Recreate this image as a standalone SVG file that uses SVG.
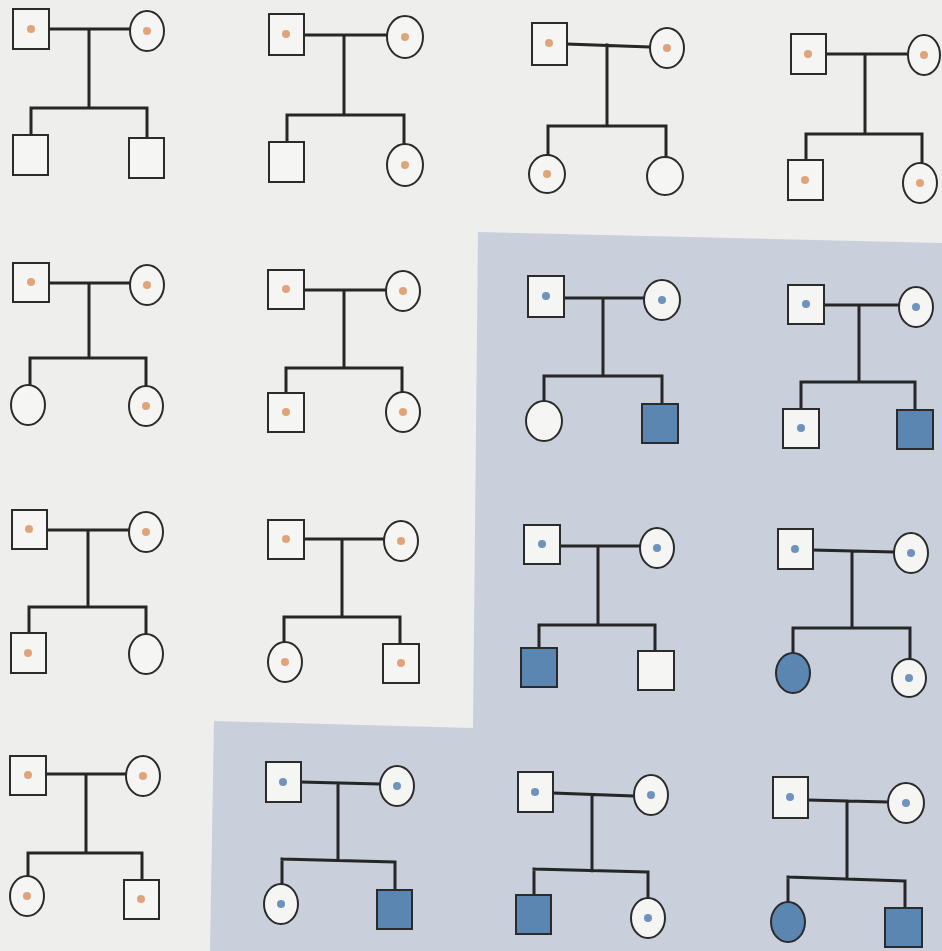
<svg xmlns="http://www.w3.org/2000/svg" width="942" height="951" viewBox="0 0 942 951">
<style>
.s{fill:#f5f5f3;stroke:#2b2b2b;stroke-width:2}
.a{fill:#5b86b1;stroke:#2b2b2b;stroke-width:2}
.l{fill:none;stroke:#262626;stroke-width:3;stroke-linecap:square}
.o{fill:#e0a47b}
.b{fill:#6f93bd}
</style>
<rect x="0" y="0" width="942" height="951" fill="#eeeeec"/>
<path d="M478,232 L942,243 L942,951 L210,951 L214,721 L473,728 Z" fill="#c9d0dc"/>
<g id="connectors">
<path class="l" d="M49,29 H130 M89,29 V108 M31,108 H147 M31,108 V135 M147,108 V138"/>
<path class="l" d="M304,35 H387 M344,35 V115 M287,115 H404 M287,115 V142 M404,115 V144"/>
<path class="l" d="M567,44 L650,47 M607,45 V126 M548,126 H666 M548,126 V154 M666,126 V156"/>
<path class="l" d="M826,54 H908 M865,54 V134 M806,134 H922 M806,134 V160 M922,134 V163"/>
<path class="l" d="M49,283 H130 M89,283 V358 M30,358 H146 M30,358 V385 M146,358 V386"/>
<path class="l" d="M304,290 H386 M344,290 V368 M286,368 H402 M286,368 V393 M402,368 V392"/>
<path class="l" d="M564,298 H644 M603,298 V376 M544,376 H662 M544,376 V401 M662,376 V404"/>
<path class="l" d="M824,305 H899 M859,305 V382 M801,382 H915 M801,382 V409 M915,382 V410"/>
<path class="l" d="M47,530 H129 M88,530 V607 M29,607 H146 M29,607 V633 M146,607 V635"/>
<path class="l" d="M304,539 H384 M342,539 V617 M284,617 H400 M284,617 V642 M400,617 V644"/>
<path class="l" d="M560,546 H640 M598,546 V625 M539,625 H655 M539,625 V648 M655,625 V651"/>
<path class="l" d="M813,550 L894,552 M852,551 V628 M793,628 H910 M793,628 V653 M910,628 V659"/>
<path class="l" d="M46,774 H126 M86,774 V853 M28,853 H142 M28,853 V876 M142,853 V880"/>
<path class="l" d="M301,782 L380,784 M338,783 V860 M282,859 L395,862 M282,859 V885 M395,862 V890"/>
<path class="l" d="M553,793 L634,796 M592,795 V871 M534,869 L648,872 M534,869 V895 M648,872 V898"/>
<path class="l" d="M808,800 L888,802 M847,801 V878 M788,877 L905,881 M788,877 V903 M905,881 V908"/>
</g>
<g id="p1">
<rect class="s" x="13" y="9" width="36" height="40"/><circle class="o" cx="31" cy="29" r="4"/>
<ellipse class="s" cx="147" cy="31" rx="17" ry="20"/><circle class="o" cx="147" cy="31" r="4"/>
<rect class="s" x="13" y="135" width="35" height="40"/>
<rect class="s" x="129" y="138" width="35" height="40"/>
</g>
<g id="p2">
<rect class="s" x="269" y="14" width="35" height="41"/><circle class="o" cx="286" cy="34" r="4"/>
<ellipse class="s" cx="405" cy="37" rx="18" ry="21"/><circle class="o" cx="405" cy="37" r="4"/>
<rect class="s" x="269" y="142" width="35" height="40"/>
<ellipse class="s" cx="405" cy="165" rx="18" ry="21"/><circle class="o" cx="405" cy="165" r="4"/>
</g>
<g id="p3">
<rect class="s" x="532" y="23" width="35" height="42"/><circle class="o" cx="549" cy="43" r="4"/>
<ellipse class="s" cx="667" cy="48" rx="17" ry="20"/><circle class="o" cx="667" cy="48" r="4"/>
<ellipse class="s" cx="547" cy="174" rx="18" ry="19"/><circle class="o" cx="547" cy="174" r="4"/>
<ellipse class="s" cx="665" cy="176" rx="18" ry="19"/>
</g>
<g id="p4">
<rect class="s" x="791" y="34" width="35" height="40"/><circle class="o" cx="808" cy="54" r="4"/>
<ellipse class="s" cx="924" cy="55" rx="16" ry="20"/><circle class="o" cx="924" cy="55" r="4"/>
<rect class="s" x="788" y="160" width="35" height="40"/><circle class="o" cx="805" cy="180" r="4"/>
<ellipse class="s" cx="920" cy="183" rx="17" ry="20"/><circle class="o" cx="920" cy="183" r="4"/>
</g>
<g id="p5">
<rect class="s" x="13" y="263" width="36" height="39"/><circle class="o" cx="31" cy="282" r="4"/>
<ellipse class="s" cx="147" cy="285" rx="17" ry="20"/><circle class="o" cx="147" cy="285" r="4"/>
<ellipse class="s" cx="28" cy="405" rx="17" ry="20"/>
<ellipse class="s" cx="146" cy="406" rx="17" ry="20"/><circle class="o" cx="146" cy="406" r="4"/>
</g>
<g id="p6">
<rect class="s" x="268" y="270" width="36" height="39"/><circle class="o" cx="286" cy="289" r="4"/>
<ellipse class="s" cx="403" cy="291" rx="17" ry="20"/><circle class="o" cx="403" cy="291" r="4"/>
<rect class="s" x="268" y="393" width="36" height="39"/><circle class="o" cx="286" cy="412" r="4"/>
<ellipse class="s" cx="403" cy="412" rx="17" ry="20"/><circle class="o" cx="403" cy="412" r="4"/>
</g>
<g id="p7">
<rect class="s" x="528" y="276" width="36" height="41"/><circle class="b" cx="546" cy="296" r="4"/>
<ellipse class="s" cx="662" cy="300" rx="18" ry="20"/><circle class="b" cx="662" cy="300" r="4"/>
<ellipse class="s" cx="544" cy="421" rx="18" ry="20"/>
<rect class="a" x="642" y="404" width="36" height="39"/>
</g>
<g id="p8">
<rect class="s" x="788" y="285" width="36" height="39"/><circle class="b" cx="806" cy="304" r="4"/>
<ellipse class="s" cx="916" cy="307" rx="17" ry="20"/><circle class="b" cx="916" cy="307" r="4"/>
<rect class="s" x="783" y="409" width="36" height="39"/><circle class="b" cx="801" cy="428" r="4"/>
<rect class="a" x="897" y="410" width="36" height="39"/>
</g>
<g id="p9">
<rect class="s" x="12" y="510" width="35" height="39"/><circle class="o" cx="29" cy="529" r="4"/>
<ellipse class="s" cx="146" cy="532" rx="17" ry="20"/><circle class="o" cx="146" cy="532" r="4"/>
<rect class="s" x="11" y="633" width="35" height="40"/><circle class="o" cx="28" cy="653" r="4"/>
<ellipse class="s" cx="146" cy="654" rx="17" ry="20"/>
</g>
<g id="p10">
<rect class="s" x="268" y="520" width="36" height="39"/><circle class="o" cx="286" cy="539" r="4"/>
<ellipse class="s" cx="401" cy="541" rx="17" ry="20"/><circle class="o" cx="401" cy="541" r="4"/>
<ellipse class="s" cx="285" cy="662" rx="17" ry="20"/><circle class="o" cx="285" cy="662" r="4"/>
<rect class="s" x="383" y="644" width="36" height="39"/><circle class="o" cx="401" cy="663" r="4"/>
</g>
<g id="p11">
<rect class="s" x="524" y="525" width="36" height="39"/><circle class="b" cx="542" cy="544" r="4"/>
<ellipse class="s" cx="657" cy="548" rx="17" ry="20"/><circle class="b" cx="657" cy="548" r="4"/>
<rect class="a" x="521" y="648" width="36" height="39"/>
<rect class="s" x="638" y="651" width="36" height="39"/>
</g>
<g id="p12">
<rect class="s" x="778" y="529" width="35" height="40"/><circle class="b" cx="795" cy="549" r="4"/>
<ellipse class="s" cx="911" cy="553" rx="17" ry="20"/><circle class="b" cx="911" cy="553" r="4"/>
<ellipse class="a" cx="793" cy="673" rx="17" ry="20"/>
<ellipse class="s" cx="909" cy="678" rx="17" ry="19"/><circle class="b" cx="909" cy="678" r="4"/>
</g>
<g id="p13">
<rect class="s" x="10" y="756" width="36" height="39"/><circle class="o" cx="28" cy="775" r="4"/>
<ellipse class="s" cx="143" cy="776" rx="17" ry="20"/><circle class="o" cx="143" cy="776" r="4"/>
<ellipse class="s" cx="27" cy="896" rx="17" ry="20"/><circle class="o" cx="27" cy="896" r="4"/>
<rect class="s" x="124" y="880" width="35" height="39"/><circle class="o" cx="141" cy="899" r="4"/>
</g>
<g id="p14">
<rect class="s" x="266" y="762" width="35" height="40"/><circle class="b" cx="283" cy="782" r="4"/>
<ellipse class="s" cx="397" cy="786" rx="17" ry="20"/><circle class="b" cx="397" cy="786" r="4"/>
<ellipse class="s" cx="281" cy="904" rx="17" ry="20"/><circle class="b" cx="281" cy="904" r="4"/>
<rect class="a" x="377" y="890" width="35" height="39"/>
</g>
<g id="p15">
<rect class="s" x="518" y="772" width="35" height="40"/><circle class="b" cx="535" cy="792" r="4"/>
<ellipse class="s" cx="651" cy="795" rx="17" ry="20"/><circle class="b" cx="651" cy="795" r="4"/>
<rect class="a" x="516" y="895" width="35" height="39"/>
<ellipse class="s" cx="648" cy="918" rx="17" ry="20"/><circle class="b" cx="648" cy="918" r="4"/>
</g>
<g id="p16">
<rect class="s" x="773" y="777" width="35" height="41"/><circle class="b" cx="790" cy="797" r="4"/>
<ellipse class="s" cx="906" cy="803" rx="18" ry="20"/><circle class="b" cx="906" cy="803" r="4"/>
<ellipse class="a" cx="788" cy="922" rx="17" ry="20"/>
<rect class="a" x="885" y="908" width="37" height="39"/>
</g>
</svg>
